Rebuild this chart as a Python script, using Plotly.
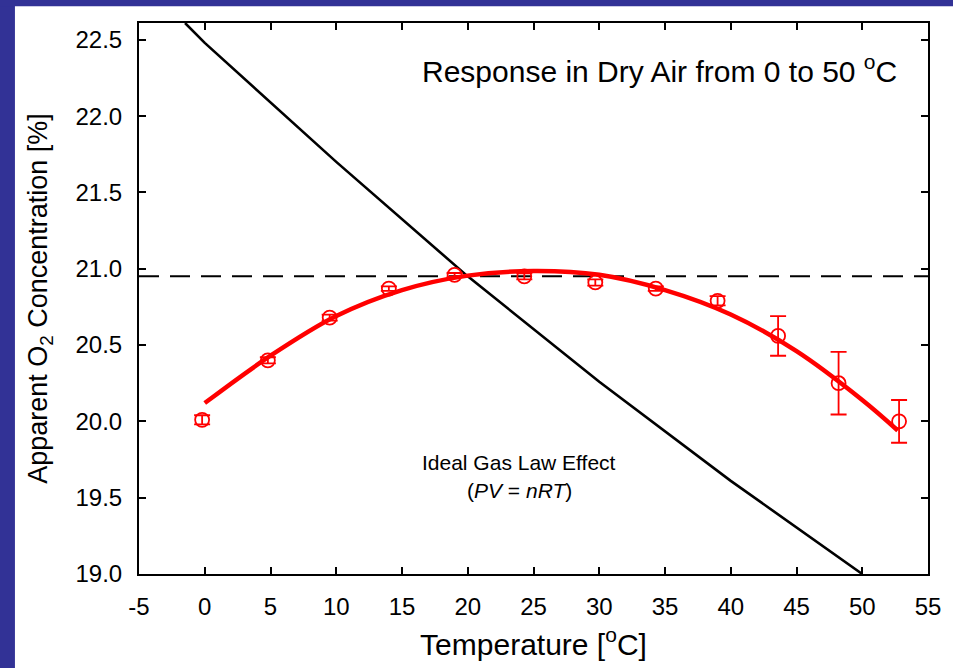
import plotly.graph_objects as go

# Measured apparent O2 readings in dry air (mean and standard deviation)
temp_c = [-0.2, 4.8, 9.5, 14.0, 19.0, 24.3, 29.7, 34.3, 39.0, 43.6, 48.2, 52.8]
o2_pct = [20.01, 20.40, 20.68, 20.87, 20.96, 20.95, 20.91, 20.87, 20.79, 20.56, 20.25, 20.00]
o2_sd = [0.03, 0.02, 0.02, 0.015, 0.012, 0.02, 0.02, 0.015, 0.03, 0.13, 0.205, 0.14]

# Smooth fit through the measurements
fit_t = [0.0, 5.0, 10.0, 15.0, 20.0, 25.0, 30.0, 35.0, 40.0, 45.0, 50.0, 52.7]
fit_o2 = [20.12, 20.43, 20.69, 20.86, 20.955, 20.985, 20.96, 20.86, 20.70, 20.46, 20.14, 19.94]

# Ideal gas law effect on apparent concentration
gas_t = [-1.5, 0.0, 10.0, 20.0, 30.0, 40.0, 50.0]
gas_o2 = [22.61, 22.48, 21.70, 20.95, 20.26, 19.61, 19.00]

# Atmospheric O2 reference level
ref_o2 = 20.95
x_span = [-5, 55]

x_ticks = [-5, 0, 5, 10, 15, 20, 25, 30, 35, 40, 45, 50, 55]
y_ticks = [19.0, 19.5, 20.0, 20.5, 21.0, 21.5, 22.0, 22.5]

FONT = "Liberation Sans, Arial, Helvetica, sans-serif"
RED = "#ff0000"
BLUE = "#323296"

fig = go.Figure()

fig.add_trace(go.Scatter(
    x=gas_t, y=gas_o2, mode="lines",
    line=dict(color="black", width=2.6), showlegend=False, hoverinfo="skip"))

fig.add_trace(go.Scatter(
    x=x_span, y=[ref_o2, ref_o2], mode="lines",
    line=dict(color="black", width=2, dash="20px,11px"),
    showlegend=False, hoverinfo="skip"))

fig.add_trace(go.Scatter(
    x=fit_t, y=fit_o2, mode="lines", line_shape="spline",
    line=dict(color=RED, width=4.5), showlegend=False))

fig.add_trace(go.Scatter(
    x=temp_c, y=o2_pct, mode="markers",
    marker=dict(symbol="circle-open", size=14, color=RED, line=dict(width=1.8, color=RED)),
    error_y=dict(type="data", array=o2_sd, visible=True, color=RED, thickness=1.8, width=8),
    showlegend=False))

fig.add_annotation(
    x=34.6, y=22.31, xref="x", yref="y", showarrow=False,
    text="Response in Dry Air from 0 to 50 <sup>o</sup>C",
    font=dict(family=FONT, size=30, color="black"))

fig.add_annotation(
    x=23.9, y=19.73, xref="x", yref="y", showarrow=False,
    text="Ideal Gas Law Effect",
    font=dict(family=FONT, size=21, color="black"))

fig.add_annotation(
    x=23.9, y=19.55, xref="x", yref="y", showarrow=False,
    text="(<i>PV</i> = <i>nRT</i>)",
    font=dict(family=FONT, size=21, color="black"))

# Blue frame strips on the left and top edges of the page
fig.add_shape(type="rect", xref="paper", yref="paper",
              x0=-0.3, x1=(14 - 139) / 795, y0=-0.3, y1=1.3,
              fillcolor=BLUE, line=dict(width=0), layer="below")
fig.add_shape(type="rect", xref="paper", yref="paper",
              x0=-0.3, x1=1.3, y0=(580 - 6) / 557, y1=1.3,
              fillcolor=BLUE, line=dict(width=0), layer="below")

axis_common = dict(
    showgrid=False, zeroline=False, showline=True, linecolor="black", linewidth=2,
    mirror="ticks", ticks="inside", ticklen=7, tickwidth=1.6, tickcolor="black",
    tickfont=dict(family=FONT, size=24, color="black"))

fig.update_xaxes(
    range=x_span, tickvals=x_ticks, ticktext=[str(v) for v in x_ticks],
    ticklabelstandoff=10,
    title=dict(text="Temperature [<sup>o</sup>C]", font=dict(family=FONT, size=30, color="black"), standoff=15),
    **axis_common)

fig.update_yaxes(
    range=[19.0, 22.61], tickvals=y_ticks, ticktext=[f"{v:.1f}" for v in y_ticks],
    ticklabelstandoff=10,
    title=dict(text="Apparent O<sub>2</sub> Concentration [%]", font=dict(family=FONT, size=27, color="black"), standoff=20),
    **axis_common)

fig.update_layout(
    width=953, height=668, autosize=False,
    margin=dict(l=139, r=19, t=23, b=88),
    paper_bgcolor="white", plot_bgcolor="white",
    font=dict(family=FONT, color="black"))

fig.write_html("out.html")
